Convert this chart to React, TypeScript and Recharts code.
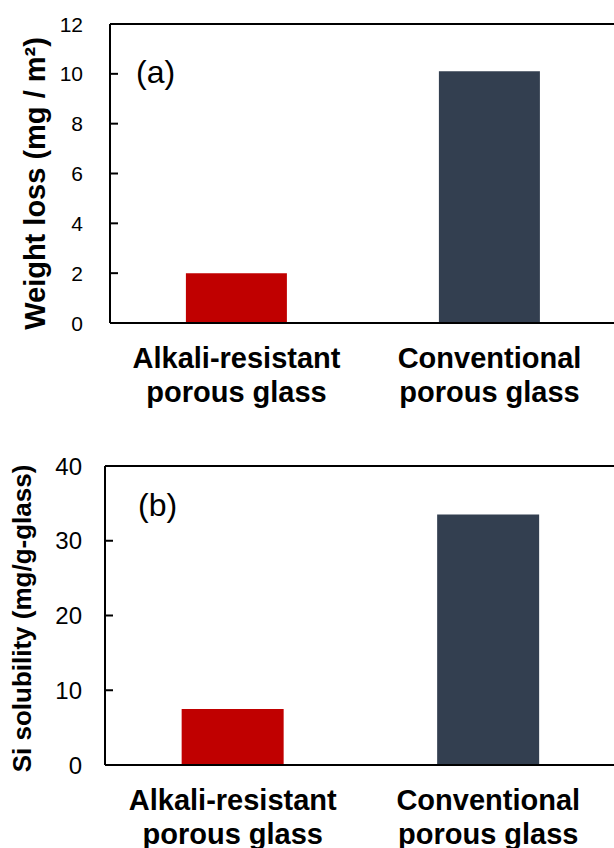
import React from "react";
import { BarChart, Bar, XAxis, YAxis, ReferenceLine, Cell } from "recharts";

// categories (second line after \n)
const categories = ["Alkali-resistant\nporous glass", "Conventional\nporous glass"];
const weightLoss = [2.0, 10.1];
const siSolubility = [7.5, 33.5];
const barColors = ["#C00000", "#333F50"];
const ticksA = [0, 2, 4, 6, 8, 10, 12];
const ticksB = [0, 10, 20, 30, 40];

const FONT = "'Liberation Sans', Arial, sans-serif";

const CategoryTick = (props: any) => {
  const { x, y, payload } = props;
  const lines = String(payload.value).split("\n");
  return (
    <text x={x} y={y} textAnchor="middle" fontFamily={FONT} fontSize={29} fontWeight="bold" fill="#000">
      {lines.map((l, i) => (
        <tspan key={i} x={x} dy={i === 0 ? 45 : 34}>
          {l}
        </tspan>
      ))}
    </text>
  );
};

// inward tick mark + label to the left
function valueTick(size: number, gap: number) {
  return (props: any) => {
    const { x, y, payload } = props;
    return (
      <g>
        <line x1={x} x2={x + 8} y1={y} y2={y} stroke="#000" strokeWidth={2} />
        <text x={x - gap} y={y} dy="0.36em" textAnchor="end" fontFamily={FONT} fontSize={size} fill="#000">
          {payload.value}
        </text>
      </g>
    );
  };
}

function yTitle(text: string, cx: number, shift: number, size: number) {
  return (props: any) => {
    const vb = props.viewBox;
    const cy = vb.y + vb.height / 2 + shift;
    return (
      <text
        x={cx}
        y={cy}
        transform={`rotate(-90, ${cx}, ${cy})`}
        textAnchor="middle"
        dy="0.35em"
        fontFamily={FONT}
        fontSize={size}
        fontWeight="bold"
        fill="#000"
      >
        {text}
      </text>
    );
  };
}

function Panel({
  values,
  ticks,
  max,
  axisX,
  tickFont,
  tickGap,
  title,
  titleX,
  titleShift,
  titleSize,
}: {
  values: number[];
  ticks: number[];
  max: number;
  axisX: number;
  tickFont: number;
  tickGap: number;
  title: string;
  titleX: number;
  titleShift: number;
  titleSize: number;
}) {
  const data = categories.map((c, i) => ({ name: c, value: values[i] }));
  return (
    <BarChart
      width={626}
      height={440}
      data={data}
      margin={{ top: 24, right: 10, left: 0, bottom: 0 }}
      barCategoryGap="30%"
    >
      <XAxis
        dataKey="name"
        height={117}
        tickLine={false}
        tickSize={0}
        tickMargin={0}
        axisLine={{ stroke: "#000", strokeWidth: 2 }}
        tick={<CategoryTick />}
        interval={0}
      />
      <YAxis
        width={axisX}
        domain={[0, max]}
        ticks={ticks}
        allowDataOverflow
        tickLine={false}
        tickSize={0}
        tickMargin={0}
        axisLine={{ stroke: "#000", strokeWidth: 2 }}
        tick={valueTick(tickFont, tickGap)}
        label={{ content: yTitle(title, titleX, titleShift, titleSize) } as any}
      />
      <ReferenceLine y={max} stroke="#000" strokeWidth={2} ifOverflow="visible" />
      <Bar dataKey="value" isAnimationActive={false}>
        {data.map((d, i) => (
          <Cell key={d.name} fill={barColors[i]} />
        ))}
      </Bar>
    </BarChart>
  );
}

export default function App() {
  return (
    <div
      style={{
        position: "absolute",
        left: 0,
        top: 0,
        width: 614,
        height: 848,
        overflow: "hidden",
        background: "#fff",
        fontFamily: FONT,
      }}
    >
      <div style={{ position: "absolute", left: 0, top: 0 }}>
        <Panel
          values={weightLoss}
          ticks={ticksA}
          max={12}
          axisX={110}
          tickFont={21}
          tickGap={27}
          title="Weight loss (mg / m²)"
          titleX={35}
          titleShift={10}
          titleSize={29}
        />
      </div>
      <div style={{ position: "absolute", left: 0, top: 442 }}>
        <Panel
          values={siSolubility}
          ticks={ticksB}
          max={40}
          axisX={105}
          tickFont={24}
          tickGap={23}
          title="Si solubility (mg/g-glass)"
          titleX={22}
          titleShift={3}
          titleSize={26}
        />
      </div>
      <div style={{ position: "absolute", left: 136, top: 56, fontSize: 32, lineHeight: "32px" }}>(a)</div>
      <div style={{ position: "absolute", left: 138, top: 489, fontSize: 32, lineHeight: "32px" }}>(b)</div>
    </div>
  );
}
